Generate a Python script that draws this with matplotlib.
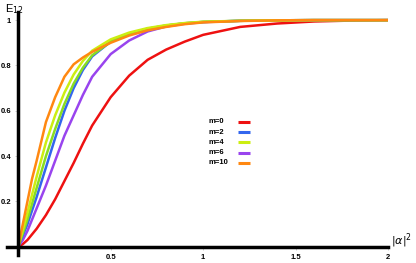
import matplotlib
matplotlib.use("Agg")
import matplotlib.pyplot as plt

# values
alpha2 = [0, 0.025, 0.05, 0.075, 0.1, 0.15, 0.2, 0.25, 0.3, 0.35, 0.4,
          0.5, 0.6, 0.7, 0.8, 0.9, 1.0, 1.2, 1.4, 1.6, 1.8, 2.0]

e_m0 = [0, 0.012, 0.03, 0.055, 0.08, 0.14, 0.21, 0.29, 0.37, 0.455, 0.535,
        0.66, 0.755, 0.825, 0.87, 0.905, 0.935, 0.97, 0.985, 0.994, 0.998, 1.0]
e_m6 = [0, 0.03, 0.07, 0.12, 0.17, 0.27, 0.38, 0.49, 0.58, 0.67, 0.75,
        0.85, 0.91, 0.95, 0.972, 0.984, 0.991, 0.997, 0.999, 1.0, 1.0, 1.0]
e_m2 = [0, 0.05, 0.1, 0.16, 0.22, 0.35, 0.48, 0.6, 0.70, 0.78, 0.84,
        0.905, 0.94, 0.962, 0.976, 0.986, 0.992, 0.997, 0.999, 1.0, 1.0, 1.0]
e_m8 = [0, 0.06, 0.12, 0.19, 0.26, 0.40, 0.52, 0.63, 0.72, 0.79, 0.845,
        0.905, 0.94, 0.962, 0.976, 0.986, 0.992, 0.997, 0.999, 1.0, 1.0, 1.0]
e_m4 = [0, 0.075, 0.15, 0.23, 0.31, 0.46, 0.58, 0.68, 0.76, 0.82, 0.865,
        0.915, 0.945, 0.965, 0.978, 0.987, 0.993, 0.997, 0.999, 1.0, 1.0, 1.0]
e_m10 = [0, 0.1, 0.2, 0.3, 0.38, 0.55, 0.66, 0.75, 0.805, 0.835, 0.86,
         0.9, 0.932, 0.955, 0.97, 0.982, 0.99, 0.996, 0.999, 1.0, 1.0, 1.0]

x_ticks = [0.5, 1, 1.5, 2]
x_tick_labels = ["0.5", "1", "1.5", "2"]
y_ticks = [0.2, 0.4, 0.6, 0.8, 1.0]
y_tick_labels = ["0.2", "0.4", "0.6", "0.8", "1"]

legend_labels = ['m=0', 'm=2', 'm=4', 'm=6', 'm=10']
legend_colors = ['#ee1111', '#3366ee', '#ccee11', '#9944ee', '#ff8811']

plt.rcParams['font.family'] = ['Liberation Sans', 'DejaVu Sans']

fig = plt.figure(figsize=(4.16, 2.63), dpi=100)
ax = fig.add_axes([0.017, 0.027, 0.916, 0.931])

# drawn back to front, orange on top
ax.plot(alpha2, e_m0, color='#ee1111', lw=1.8)
ax.plot(alpha2, e_m6, color='#9944ee', lw=1.8)
ax.plot(alpha2, e_m2, color='#3366ee', lw=1.8)
ax.plot(alpha2, e_m8, color='#88dd22', lw=1.8)
ax.plot(alpha2, e_m4, color='#ccee11', lw=1.8)
ax.plot(alpha2, e_m10, color='#ff8811', lw=1.8)

# hand-made legend: labels left aligned, short line after the label
for i, (lab, col) in enumerate(zip(legend_labels, legend_colors)):
    yy = 0.548 - i * 0.042
    ax.text(0.528, yy, lab, transform=ax.transAxes, fontsize=5.5,
            fontweight='bold', va='center', ha='left')
    ax.plot([0.605, 0.638], [yy, yy], transform=ax.transAxes,
            color=col, lw=2.2, solid_capstyle='butt')

ax.set_xlim(-0.06, 2.0)
ax.set_ylim(-0.04, 1.04)

for s in ['top', 'right']:
    ax.spines[s].set_visible(False)
ax.spines['left'].set_position(('data', 0))
ax.spines['bottom'].set_position(('data', 0))
ax.spines['left'].set_linewidth(2.5)
ax.spines['bottom'].set_linewidth(2.5)
ax.spines['left'].set_bounds(-0.035, 1.035)
ax.spines['bottom'].set_bounds(-0.06, 2.0)

ax.set_xticks(x_ticks)
ax.set_xticklabels(x_tick_labels)
ax.set_yticks(y_ticks)
ax.set_yticklabels(y_tick_labels)
ax.tick_params(axis='both', length=2, width=0.4, color='#aaaaaa',
               labelsize=5.5, pad=3)
for t in ax.get_xticklabels() + ax.get_yticklabels():
    t.set_fontweight('bold')

fig.text(0.012, 0.965, r'E$_{12}$', fontsize=8, va='center', ha='left')
fig.text(0.94, 0.085, r'$|\alpha|^2$', fontsize=8, va='center', ha='left')

fig.savefig('out.png', dpi=100)
